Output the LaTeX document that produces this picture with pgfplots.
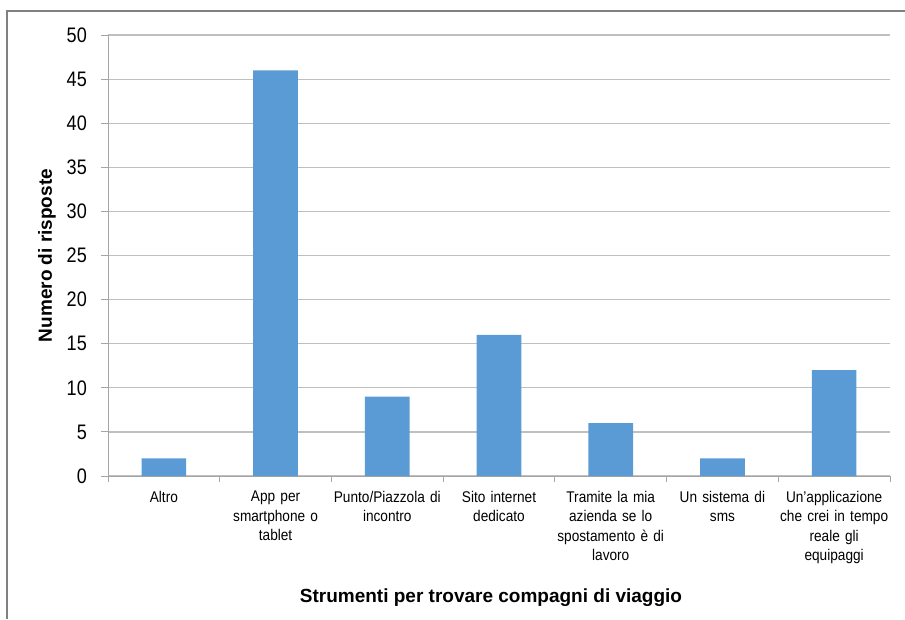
\documentclass[border=0pt]{standalone}
\usepackage{fontspec}
\setmainfont{Liberation Sans}
\newfontfamily\tickfont[FakeStretch=0.86]{Liberation Sans}
\newfontfamily\catfont[FakeStretch=0.88]{Liberation Sans}
\usepackage{pgfplots}
\pgfplotsset{compat=1.18}
\definecolor{barblue}{RGB}{91,155,213}
\definecolor{gridgray}{RGB}{191,191,191}
\definecolor{axisgray}{RGB}{165,165,165}
\definecolor{framegray}{RGB}{128,128,128}
\begin{document}
\begin{tikzpicture}[x=1pt,y=1pt]
\useasboundingbox (0,0) rectangle (905,619);
\draw[framegray, line width=1.2pt] (7,0) -- (7,608) -- (905,608);
\begin{axis}[
  at={(108pt,143pt)}, anchor=south west,
  scale only axis, width=782pt, height=441pt,
  xmin=-0.5, xmax=6.5, ymin=0, ymax=50,
  axis x line*=bottom, axis y line*=left,
  axis line style={draw=axisgray, line width=1pt},
  ytick={0,5,...,50},
  xtick={0,...,6},
  xticklabels={Altro, {App per\\smartphone o\\tablet}, {Punto/Piazzola di\\incontro}, {Sito internet\\dedicato}, {Tramite la mia\\azienda se lo\\spostamento è di\\lavoro}, {Un sistema di\\sms}, {Un’applicazione\\che crei in tempo\\reale gli\\equipaggi}},
  minor xtick={-0.5,0.5,...,6.5},
  tick align=outside,
  major tick length=7pt, minor tick length=6pt,
  every tick/.style={draw=axisgray, line width=1pt},
  major x tick style={draw=none},
  ymajorgrids, major grid style={draw=gridgray, line width=1.2pt},
  /pgf/number format/assume math mode=true,
  yticklabel style={font=\tickfont\fontsize{21}{22}\selectfont, inner sep=0pt, xshift=-14pt},
  xticklabel style={font=\catfont\fontsize{15.5}{19.5}\selectfont, text width=115pt, align=center, inner sep=0pt, yshift=-8pt},
  xlabel={Strumenti per trovare compagni di viaggio},
  ylabel={Numero di risposte},
  xlabel style={font=\fontsize{19}{22}\selectfont\bfseries, at={(axis description cs:0.5,0)}, anchor=center, yshift=-122pt, xshift=-8pt},
  ylabel style={font=\fontsize{19}{22}\selectfont\bfseries, at={([xshift=-61pt]axis description cs:0,0.5)}, anchor=center},
  clip=false,
]
\addplot[ybar, bar width=0.4, fill=barblue, draw=none] coordinates {
  (0,2) (1,46) (2,9) (3,16) (4,6) (5,2) (6,12)
};
\end{axis}
\end{tikzpicture}
\end{document}
